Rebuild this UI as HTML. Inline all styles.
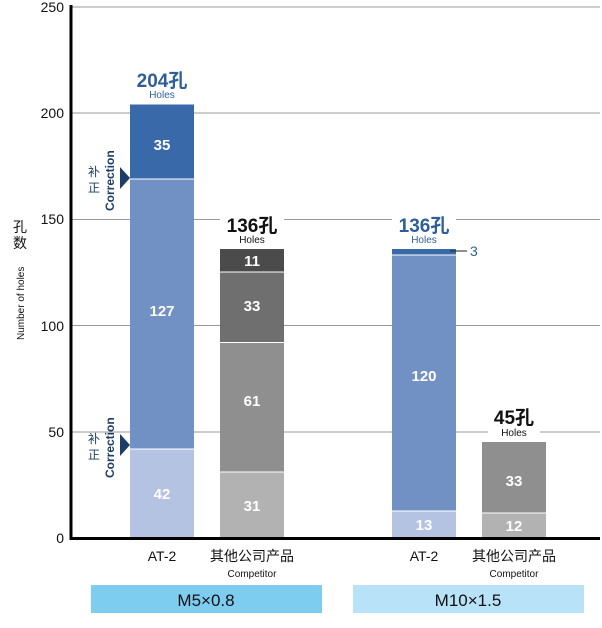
<!DOCTYPE html>
<html><head><meta charset="utf-8"><style>
body{margin:0;background:#fff;}
svg text{font-family:"Liberation Sans","Noto Sans CJK SC",sans-serif;}
</style></head><body>
<svg width="602" height="623" viewBox="0 0 602 623" xmlns="http://www.w3.org/2000/svg">
<g stroke="#9a9a9a" stroke-width="1">
<line x1="71" y1="7" x2="600" y2="7"/>
<line x1="71" y1="113" x2="600" y2="113"/>
<line x1="71" y1="219.5" x2="600" y2="219.5"/>
<line x1="71" y1="325.5" x2="600" y2="325.5"/>
<line x1="71" y1="432" x2="600" y2="432"/>
</g>
<g font-size="14" fill="#111" text-anchor="end">
<text x="64" y="12">250</text><text x="64" y="118">200</text><text x="64" y="224">150</text>
<text x="64" y="331">100</text><text x="64" y="437">50</text><text x="64" y="543">0</text>
</g>
<text x="20" y="232" font-size="14" text-anchor="middle" fill="#111">孔</text>
<text x="20" y="248" font-size="14" text-anchor="middle" fill="#111">数</text>
<text transform="translate(24,340) rotate(-90)" font-size="10" fill="#111">Number of holes</text>
<!-- M5 AT-2 -->
<rect x="130" y="104.5" width="64" height="74.5" fill="#3a69aa"/>
<rect x="130" y="179" width="64" height="270" fill="#7190c4"/>
<rect x="130" y="449" width="64" height="89" fill="#b5c3e2"/>
<line x1="130" y1="179" x2="194" y2="179" stroke="#fff"/>
<line x1="130" y1="449" x2="194" y2="449" stroke="#fff"/>
<!-- M5 competitor -->
<rect x="220" y="249" width="64" height="23" fill="#4b4b4b"/>
<rect x="220" y="272" width="64" height="70.5" fill="#6f6f6f"/>
<rect x="220" y="342.5" width="64" height="129.5" fill="#8f8f8f"/>
<rect x="220" y="472" width="64" height="66" fill="#b2b2b2"/>
<g stroke="#fff"><line x1="220" y1="272" x2="284" y2="272"/><line x1="220" y1="342.5" x2="284" y2="342.5"/><line x1="220" y1="472" x2="284" y2="472"/></g>
<!-- M10 AT-2 -->
<rect x="392" y="249" width="64" height="6" fill="#3a69aa"/>
<rect x="392" y="255" width="64" height="256" fill="#7190c4"/>
<rect x="392" y="511" width="64" height="27" fill="#b5c3e2"/>
<g stroke="#fff"><line x1="392" y1="255" x2="456" y2="255"/><line x1="392" y1="511" x2="456" y2="511"/></g>
<line x1="450" y1="251" x2="467" y2="251" stroke="#222"/>
<text x="470" y="256" font-size="14" fill="#2e5f9a">3</text>
<!-- M10 competitor -->
<rect x="482" y="442" width="64" height="71" fill="#8f8f8f"/>
<rect x="482" y="513" width="64" height="25" fill="#b2b2b2"/>
<line x1="482" y1="513" x2="546" y2="513" stroke="#fff"/>
<!-- axes -->
<line x1="71" y1="5" x2="71" y2="540" stroke="#000" stroke-width="3"/>
<line x1="70" y1="538.5" x2="600" y2="538.5" stroke="#000" stroke-width="3"/>
<!-- bar labels -->
<g font-size="15" font-weight="bold" fill="#fff" text-anchor="middle">
<text x="162" y="150">35</text><text x="162" y="316">127</text><text x="162" y="499">42</text>
<text x="252" y="266">11</text><text x="252" y="311">33</text><text x="252" y="406">61</text><text x="252" y="511">31</text>
<text x="424" y="381">120</text><text x="424" y="530">13</text>
<text x="514" y="486">33</text><text x="514" y="531">12</text>
</g>
<!-- totals -->
<rect x="128" y="66" width="68" height="36" fill="#fff"/>
<text x="162" y="87" font-size="19" font-weight="bold" fill="#2e5f9a" text-anchor="middle">204孔</text>
<text x="162" y="98" font-size="10" fill="#2e5f9a" text-anchor="middle">Holes</text>
<rect x="220" y="211" width="64" height="36" fill="#fff"/>
<text x="252" y="232" font-size="19" font-weight="bold" fill="#111" text-anchor="middle">136孔</text>
<text x="252" y="243" font-size="10" fill="#111" text-anchor="middle">Holes</text>
<rect x="392" y="211" width="64" height="36" fill="#fff"/>
<text x="424" y="232" font-size="19" font-weight="bold" fill="#2e5f9a" text-anchor="middle">136孔</text>
<text x="424" y="243" font-size="10" fill="#2e5f9a" text-anchor="middle">Holes</text>
<rect x="488" y="403" width="52" height="36" fill="#fff"/>
<text x="514" y="424" font-size="19" font-weight="bold" fill="#111" text-anchor="middle">45孔</text>
<text x="514" y="436" font-size="10" fill="#111" text-anchor="middle">Holes</text>
<!-- corrections -->
<polygon points="120,167 130,178 120,189" fill="#1c3d66"/>
<text x="94" y="176" font-size="12" fill="#1c3d66" text-anchor="middle">补</text>
<text x="94" y="192" font-size="12" fill="#1c3d66" text-anchor="middle">正</text>
<text transform="translate(114,211) rotate(-90)" font-size="12" font-weight="bold" fill="#1c3d66">Correction</text>
<polygon points="120,434 130,445 120,456" fill="#1c3d66"/>
<text x="94" y="443" font-size="12" fill="#1c3d66" text-anchor="middle">补</text>
<text x="94" y="459" font-size="12" fill="#1c3d66" text-anchor="middle">正</text>
<text transform="translate(114,478) rotate(-90)" font-size="12" font-weight="bold" fill="#1c3d66">Correction</text>
<!-- categories -->
<g font-size="14" fill="#111" text-anchor="middle">
<text x="162" y="561">AT-2</text><text x="252" y="561">其他公司产品</text>
<text x="424" y="561">AT-2</text><text x="514" y="561">其他公司产品</text>
</g>
<text x="252" y="577" font-size="10" fill="#111" text-anchor="middle">Competitor</text>
<text x="514" y="577" font-size="10" fill="#111" text-anchor="middle">Competitor</text>
<rect x="91" y="585" width="231" height="28" fill="#7ccdf0"/>
<rect x="353" y="585" width="231" height="28" fill="#b8e2f7"/>
<text x="206" y="606" font-size="17" fill="#111" text-anchor="middle">M5×0.8</text>
<text x="468" y="606" font-size="17" fill="#111" text-anchor="middle">M10×1.5</text>
</svg>
</body></html>
